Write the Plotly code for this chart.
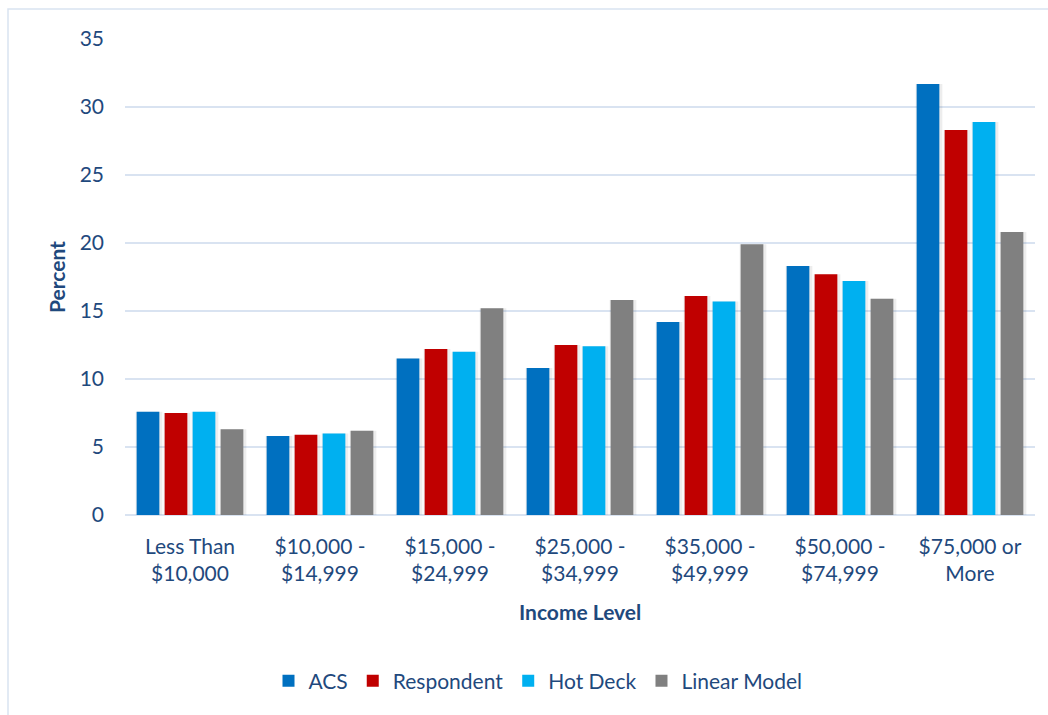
import plotly.graph_objects as go

# Share of households by income level, by estimation method
categories = [
    "Less Than<br>$10,000",
    "$10,000 -<br>$14,999",
    "$15,000 -<br>$24,999",
    "$25,000 -<br>$34,999",
    "$35,000 -<br>$49,999",
    "$50,000 -<br>$74,999",
    "$75,000 or<br>More",
]
acs = [7.6, 5.8, 11.5, 10.8, 14.2, 18.3, 31.7]
respondent = [7.5, 5.9, 12.2, 12.5, 16.1, 17.7, 28.3]
hot_deck = [7.6, 6.0, 12.0, 12.4, 15.7, 17.2, 28.9]
linear_model = [6.3, 6.2, 15.2, 15.8, 19.9, 15.9, 20.8]

series_names = ["ACS", "Respondent", "Hot Deck", "Linear Model"]
series_values = [acs, respondent, hot_deck, linear_model]
series_colors = ["#0070C0", "#C00000", "#00B0F0", "#808080"]

y_ticks = [0, 5, 10, 15, 20, 25, 30, 35]

# Figure geometry (pixels)
W, H = 1048, 715
ML, MR, MT, MB = 125, 13, 39, 200
PW, PH = W - ML - MR, H - MT - MB
N_CAT = len(categories)
CAT_PX = PW / N_CAT  # pixels per category


def px_x(p):
    return (p - ML) / PW


def px_y(p):
    return (H - MB - p) / PH


TEXT = "#1F497D"
GRID = "#D9E3F1"
FONT = "Lato"

# bar layout inside each category (category width = 1)
bar_w = 0.1746
slot = 0.2154
first_left = -(3 * slot + bar_w) / 2

fig = go.Figure()

# faint drop shadow behind each bar
for i, vals in enumerate(series_values):
    left = first_left + i * slot
    fig.add_trace(go.Bar(
        x=categories, y=vals,
        width=bar_w + 4 / CAT_PX,
        offset=left - 1 / CAT_PX,
        marker=dict(color="rgba(0,0,0,0.07)", line=dict(width=0)),
        showlegend=False, hoverinfo="skip",
    ))

for i, (name, vals, col) in enumerate(zip(series_names, series_values, series_colors)):
    fig.add_trace(go.Bar(
        name=name, x=categories, y=vals,
        width=bar_w,
        offset=first_left + i * slot,
        marker=dict(color=col, line=dict(width=0)),
    ))

fig.update_layout(
    width=W, height=H,
    margin=dict(l=ML, r=MR, t=MT, b=MB, pad=0),
    barmode="overlay",
    paper_bgcolor="white",
    plot_bgcolor="white",
    font=dict(family=FONT, size=21, color=TEXT),
    showlegend=True,
    legend=dict(
        orientation="h",
        x=px_x(538), xanchor="center",
        y=px_y(681), yanchor="middle",
        font=dict(family=FONT, size=21, color=TEXT),
        itemwidth=30,
        traceorder="normal",
        bgcolor="rgba(0,0,0,0)",
    ),
    xaxis=dict(
        type="category",
        categoryorder="array", categoryarray=categories,
        showgrid=False,
        showline=False,
        ticks="",
        tickfont=dict(family=FONT, size=21, color=TEXT),
        ticklabelstandoff=17,
        fixedrange=True,
    ),
    yaxis=dict(
        range=[0, 35],
        tickvals=y_ticks,
        showgrid=True, gridcolor=GRID, gridwidth=2,
        zeroline=True, zerolinecolor=GRID, zerolinewidth=2,
        showline=False,
        ticks="",
        tickfont=dict(family=FONT, size=21, color=TEXT),
        ticklabelstandoff=20,
        fixedrange=True,
    ),
    annotations=[
        dict(text="<b>Percent</b>", xref="paper", yref="paper",
             x=px_x(56), y=0.5, xanchor="center", yanchor="middle",
             textangle=-90, showarrow=False,
             font=dict(family=FONT, size=21, color=TEXT)),
        dict(text="<b>Income Level</b>", xref="paper", yref="paper",
             x=px_x(580), y=px_y(611), xanchor="center", yanchor="middle",
             showarrow=False,
             font=dict(family=FONT, size=21, color=TEXT)),
    ],
    shapes=[
        dict(type="rect", xref="paper", yref="paper",
             x0=px_x(8), x1=px_x(W + 10), y0=px_y(H + 10), y1=px_y(9),
             line=dict(color=GRID, width=1.5), fillcolor="rgba(0,0,0,0)",
             layer="below"),
    ],
)

fig.write_html("out.html")
